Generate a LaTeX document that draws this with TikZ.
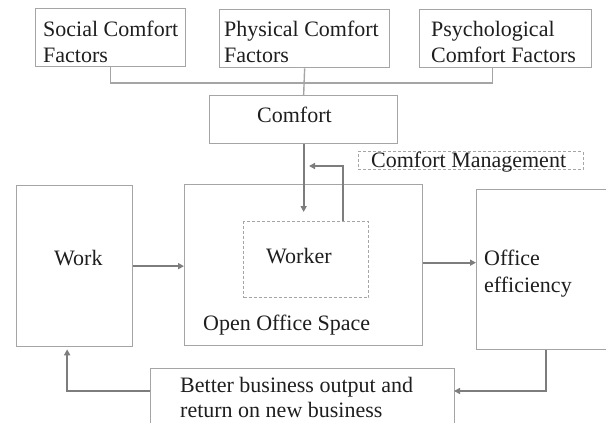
\documentclass[tikz,border=0pt]{standalone}
\usepackage{fontspec}
\setmainfont{Liberation Serif}
\usetikzlibrary{arrows.meta,calc}
\definecolor{boxgray}{RGB}{165,165,165}
\definecolor{arrgray}{RGB}{125,125,125}
\definecolor{txt}{RGB}{30,30,30}
\begin{document}
\begin{tikzpicture}[x=1pt,y=-1pt,
  box/.style={draw=boxgray,line width=1.3pt,inner sep=0pt,anchor=north west},
  dbox/.style={draw=boxgray,line width=1.1pt,dash pattern=on 3pt off 2pt,inner sep=0pt,anchor=north west},
  lbl/.style={inner sep=0pt,anchor=base west,text=txt,font=\fontsize{22}{27}\selectfont},
  conn/.style={draw=boxgray,line width=1.4pt},
  arr/.style={draw=arrgray,line width=1.8pt,-{Triangle[length=6pt,width=6pt]}}]
\useasboundingbox (0,0) rectangle (606,423);
\clip (0,0) rectangle (606,423);
% top boxes
\node[box,minimum width=150pt,minimum height=58pt] (social) at (35,8) {};
\node[box,minimum width=170pt,minimum height=58pt] (physical) at (219,9) {};
\node[box,minimum width=172pt,minimum height=58pt] (psych) at (419,9) {};
\node[lbl] (socialt1) at (43,36) {Social Comfort};
\node[lbl] (socialt2) at (43,63) {Factors};
\node[lbl] (physt1) at (224,36) {Physical Comfort};
\node[lbl] (physt2) at (224,63) {Factors};
\node[lbl] (psyt1) at (431,36) {Psychological};
\node[lbl] (psyt2) at (431,63) {Comfort Factors};
% comfort
\node[box,minimum width=188pt,minimum height=48pt] (comfort) at (209,95) {};
\node[lbl] (comfortt) at (257,122) {Comfort};
% comfort management
\node[dbox,minimum width=225pt,minimum height=18pt] (mgmt) at (357.5,151) {};
\node[lbl] (mgmtt) at (371,167) {Comfort Management};
% work
\node[box,minimum width=116pt,minimum height=161pt] (work) at (15.5,185) {};
\node[lbl] (workt) at (54,265) {Work};
% open office
\node[box,minimum width=238pt,minimum height=161pt] (open) at (184,184) {};
\node[dbox,minimum width=125pt,minimum height=76pt] (worker) at (243,221) {};
\node[lbl] (workert) at (266,263) {Worker};
\node[lbl] (opent) at (203,330) {Open Office Space};
% office efficiency
\node[box,minimum width=140pt,minimum height=160pt] (office) at (476,189) {};
\node[lbl] (officet1) at (484,265) {Office};
\node[lbl] (officet2) at (484,292) {efficiency};
% bottom
\node[box,minimum width=304pt,minimum height=64pt] (bottom) at (150,368) {};
\node[lbl] (bottomt1) at (180,392) {Better business output and};
\node[lbl] (bottomt2) at (180,417) {return on new business};
% junction lines
\coordinate (jn) at (303,83);
\draw[conn] (social.south) |- (jn);
\draw[conn] ([xshift=-13pt]psych.south) |- (jn);
\draw[conn] (physical.south) -- (comfort.north);
% arrows
\coordinate (wtop) at ([yshift=9pt]worker.north);
\draw[arr] (comfort.south) -- (comfort.south |- wtop);
\coordinate (fb) at (309,166);
\draw[arr] ([xshift=-26pt]worker.north east) |- (fb);
\draw[arr] (work.east) -- (open.west |- work.east);
\coordinate (oa) at ([yshift=2.5pt]open.east);
\draw[arr] (oa) -- (office.west |- oa);
\coordinate (ob) at (454,391);
\draw[arr] ([xshift=70pt]office.south west) |- (ob);
\coordinate (bw) at (150,391);
\draw[arr,shorten >=2pt] (bw) -| ([xshift=-7pt]work.south);
\end{tikzpicture}
\end{document}
